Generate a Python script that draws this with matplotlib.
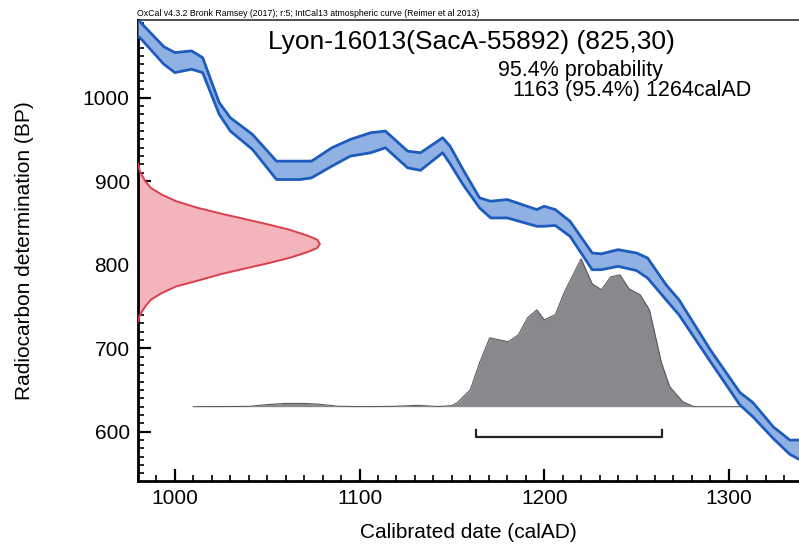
import numpy as np
import matplotlib
matplotlib.use("Agg")
from matplotlib import pyplot as plt
from matplotlib.ticker import MultipleLocator

#-------------------------------------------------------
# Data
#-------------------------------------------------------

# IntCal13 calibration band (upper / lower edge, BP)
curve_years = [980, 981, 994, 1000, 1009, 1015, 1024, 1030, 1042, 1055, 1068,
               1074, 1085, 1095, 1106, 1114, 1126, 1133, 1145, 1149, 1156,
               1165, 1171, 1180, 1196, 1200, 1206, 1214, 1226, 1231, 1240,
               1250, 1256, 1266, 1273, 1290, 1306, 1313, 1324, 1333, 1338]
curve_hi = [1093, 1091, 1061, 1054, 1056, 1048, 994, 976, 956, 924, 924,
            924, 940, 950, 958, 960, 936, 934, 952, 942, 914,
            880, 876, 878, 866, 870, 866, 852, 814, 813, 818,
            814, 808, 776, 758, 698, 647, 635, 606, 590, 590]
curve_lo = [1073, 1072, 1040, 1030, 1034, 1030, 980, 960, 938, 902, 902,
            904, 918, 930, 934, 940, 916, 913, 934, 921, 896,
            868, 856, 856, 846, 846, 847, 834, 794, 794, 798,
            793, 784, 758, 740, 684, 632, 618, 592, 573, 567]

c14_bp = [921, 912, 900, 892, 884, 876, 868, 861, 854, 848, 842, 835, 830,
          825, 820, 815, 808, 802, 796, 789, 781, 774, 766, 758, 750, 740,
          732]
c14_prob = [0.0, 0.01, 0.04, 0.07, 0.13, 0.21, 0.33, 0.46, 0.6, 0.72, 0.83,
            0.93, 0.985, 1.0, 0.985, 0.93, 0.83, 0.72, 0.6, 0.46, 0.33, 0.21,
            0.13, 0.07, 0.04, 0.01, 0.0]

# calibrated probability distribution
cal_years = [1010, 1040, 1050, 1060, 1070, 1078, 1088, 1100, 1118, 1131,
             1143, 1150, 1153, 1160, 1165, 1170.5, 1180.5, 1186, 1191, 1196,
             1200, 1206, 1211, 1220, 1226, 1231, 1236, 1241, 1246, 1252,
             1257, 1263.5, 1268, 1275, 1281, 1310]
cal_prob = [0, 0.002, 0.014, 0.022, 0.022, 0.017, 0.003, 0, 0.002, 0.009,
            0.001, 0.007, 0.027, 0.115, 0.297, 0.466, 0.439, 0.486, 0.601,
            0.655, 0.588, 0.622, 0.777, 1.0, 0.831, 0.791, 0.878, 0.892,
            0.797, 0.757, 0.655, 0.297, 0.135, 0.034, 0, 0]

range_start, range_end = 1163, 1264

#-------------------------------------------------------
# Plot
#-------------------------------------------------------

plt.rcParams['font.family'] = ['Liberation Sans', 'DejaVu Sans']

W, H = 799, 555
fig = plt.figure(figsize=(W / 100, H / 100), dpi=100)
ax = fig.add_axes([138 / W, 1 - 481 / H, (W - 138) / W, (481 - 20) / H])

xmin, xmax = 980, 1338
ymin, ymax = 541, 1093
ax.set_xlim(xmin, xmax)
ax.set_ylim(ymin, ymax)

# calibrated distribution, baseline at 630 BP
base = 630
cal_scale = 177
cy = np.array(cal_prob) * cal_scale + base
ax.fill_between(cal_years, base, cy, color="#87898d", lw=0, zorder=2)
ax.plot(cal_years, cy, color="#5a5a5e", lw=0.8, zorder=2)

# measurement on the y axis
c14_scale = 98.5
cx = xmin + np.array(c14_prob) * c14_scale
ax.fill_betweenx(c14_bp, xmin, cx, color="#f3b5bb", lw=0, zorder=2)
ax.plot(cx, c14_bp, color="#dc3f4c", lw=1.4, zorder=3)

# calibration curve
ax.fill_between(curve_years, curve_lo, curve_hi, color="#8fb1e4", lw=0,
                zorder=4)
ax.plot(curve_years, curve_hi, color="#1d5cbc", lw=2.0, zorder=5)
ax.plot(curve_years, curve_lo, color="#1d5cbc", lw=2.0, zorder=5)

# 95.4% range bracket
ax.plot([range_start, range_start, range_end, range_end],
        [602, 594, 594, 602], color="#222222", lw=1.6, zorder=5)

# axes styling
for s in ["top", "right"]:
    ax.spines[s].set_visible(False)
for s in ["left", "bottom"]:
    ax.spines[s].set_linewidth(2.0)
ax.plot([0, 1], [1, 1], transform=ax.transAxes, color="#333333", lw=1.2,
        clip_on=False)

ax.xaxis.set_major_locator(MultipleLocator(100))
ax.xaxis.set_minor_locator(MultipleLocator(10))
ax.yaxis.set_major_locator(MultipleLocator(100))
ax.yaxis.set_minor_locator(MultipleLocator(10))
ax.tick_params(which="major", direction="in", length=9, width=1.6,
               labelsize=15, pad=6, colors="black")
ax.tick_params(which="minor", direction="in", length=4.5, width=1.2)

ax.set_xlabel("Calibrated date (calAD)", fontsize=15, labelpad=10.5)
ax.set_ylabel("Radiocarbon determination (BP)", fontsize=15, labelpad=35)

fig.text(137 / W, 1 - 18 / H,
         "OxCal v4.3.2 Bronk Ramsey (2017); r:5; IntCal13 atmospheric curve "
         "(Reimer et al 2013)",
         fontsize=6.3, va="bottom", ha="left")
ax.text(1160.5, 1067, "Lyon-16013(SacA-55892) (825,30)", fontsize=19,
        ha="center", va="center")
ax.text(1175, 1033, "95.4% probability", fontsize=15.5, ha="left",
        va="center")
ax.text(1183, 1008, "1163 (95.4%) 1264calAD", fontsize=15.5, ha="left",
        va="center")

fig.savefig("out.png", dpi=100)
